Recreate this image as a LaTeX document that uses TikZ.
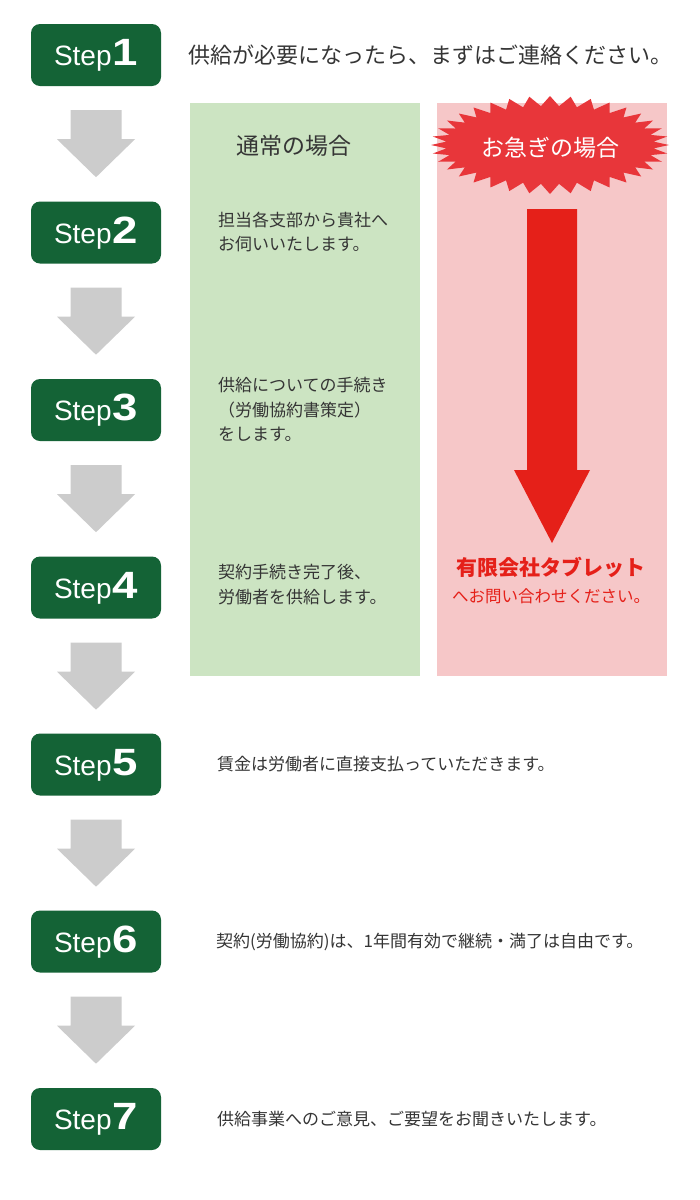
\documentclass[tikz,border=0pt]{standalone}
\usepackage{fontspec}
\newfontfamily\jp{Noto Sans CJK JP}
\newfontfamily\lat{Liberation Sans}
\newfontfamily\latnum{Liberation Sans Bold}[FakeStretch=1.2]
\definecolor{stepgreen}{HTML}{146336}
\definecolor{arrowgray}{HTML}{CCCCCC}
\definecolor{panelgreen}{HTML}{CCE4C2}
\definecolor{panelpink}{HTML}{F6C7C8}
\definecolor{burstred}{HTML}{E8363A}
\definecolor{arrowred}{HTML}{E52019}
\definecolor{textgray}{HTML}{353535}
\begin{document}
\begin{tikzpicture}[x=1pt,y=-1pt,
  stepbox/.style={fill=stepgreen, rounded corners=9pt, minimum width=130pt,
    minimum height=62pt, inner sep=0pt, text=white, text height=21pt,
    text depth=0pt, font=\lat\fontsize{28}{28}\selectfont},
  big/.style={font=\jp\fontsize{22}{26}\selectfont, text=textgray, inner sep=0pt},
  body/.style={font=\jp\fontsize{17}{24.5}\selectfont, text=textgray,
    inner sep=0pt, align=left, anchor=west},
  panel/.style={anchor=north west, minimum width=230pt, minimum height=573pt,
    inner sep=0pt},
  pics/bigdown/.style={code={
    \fill[arrowgray] (-25.5,0) -- (25.5,0) -- (25.5,29) -- (39,29) -- (0,67)
      -- (-39,29) -- (-25.5,29) -- cycle;}}
]
\fill[white] (0,0) rectangle (700,1200);
\useasboundingbox (0,0) rectangle (700,1200);

% panels
\node[panel, fill=panelgreen] (normal) at (190,103) {};
\node[panel, fill=panelpink] (urgent) at (437,103) {};

% steps
\foreach \i/\y in {1/55,2/232.5,3/410,4/587.5,5/764.5,6/941.5,7/1119}{
  \node[stepbox] (s\i) at (96,\y) {Step\kern1pt{\latnum\fontsize{38}{38}\selectfont\i}};
}
\foreach \i in {1,...,6}{
  \path (s\i.south) ++(0,24) pic {bigdown};
}

% step texts
\node[big, anchor=west] (t1) at (188,55) {供給が必要になったら、まずはご連絡ください。};
\node[body] (t2) at (218,232) {担当各支部から貴社へ\\お伺いいたします。};
\node[body] (t3) at (218,409.5) {供給についての手続き\\（労働協約書策定）\\をします。};
\node[body] (t4) at (218,584.5) {契約手続き完了後、\\労働者を供給します。};
\node[body] (t5) at (217,764.5) {賃金は労働者に直接支払っていただきます。};
\node[body] (t6) at (216,941.5) {契約(労働協約)は、1年間有効で継続・満了は自由です。};
\node[body] (t7) at (217,1119) {供給事業へのご意見、ご要望をお聞きいたします。};

% normal case heading
\node[big, anchor=west, font=\jp\fontsize{23}{26}\selectfont] (normalhead) at (236,146) {通常の場合};

% urgent burst
\fill[burstred] (669,145)
  \foreach \k in {0,...,35}{
    -- ({550+104*cos(\k*10+5)},{145+39*sin(\k*10+5)})
    -- ({550+119*cos(\k*10+10)},{145+49*sin(\k*10+10)})
  } -- cycle;
\node[big, text=white, font=\jp\fontsize{23}{26}\selectfont] (urgenthead) at (550,148) {お急ぎの場合};

% red arrow
\fill[arrowred] (527,209) -- (577,209) -- (577,470) -- (590,470) -- (552,543)
  -- (514,470) -- (527,470) -- cycle;

\node[inner sep=0pt, text=arrowred, font=\jp\bfseries\fontsize{21}{24}\selectfont] (company) at (551,567) {有限会社タブレット};
\node[inner sep=0pt, text=arrowred, font=\jp\fontsize{16.5}{20}\selectfont] (contact) at (551,596) {へお問い合わせください。};
\end{tikzpicture}
\end{document}
